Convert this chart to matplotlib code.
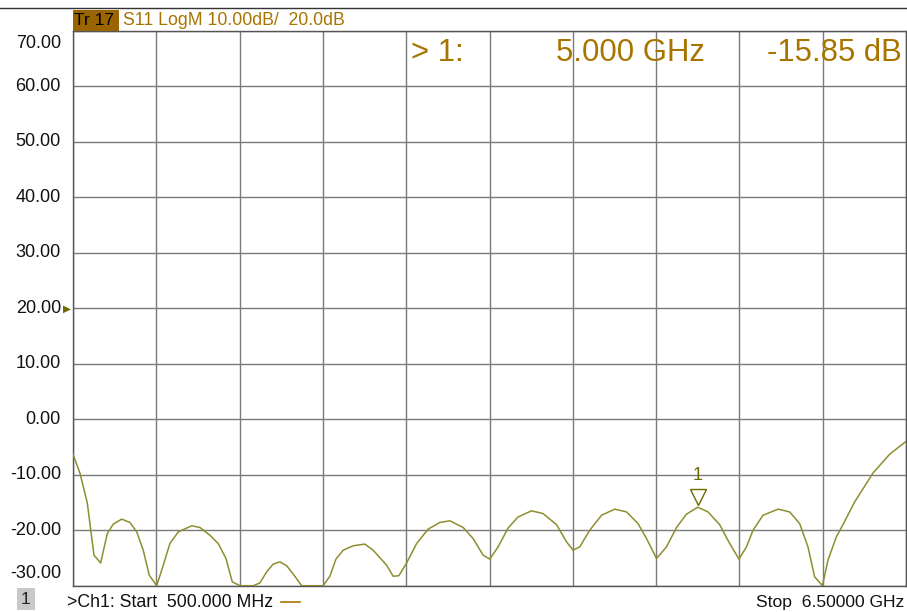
import numpy as np
import matplotlib
matplotlib.use("Agg")
import matplotlib.pyplot as plt
import matplotlib.transforms as mtransforms

plt.rcParams['font.family'] = ['Liberation Sans', 'DejaVu Sans']

# trace S11, frequency in GHz, LogM in dB (-30 = clipped at bottom)
freq_ghz = [0.500, 0.550, 0.603, 0.651, 0.699, 0.747, 0.790, 0.851, 0.910, 0.959,
            1.006, 1.049, 1.103, 1.150, 1.198, 1.258, 1.355, 1.414, 1.486, 1.546,
            1.602, 1.647, 1.702, 1.798, 1.846, 1.895, 1.942, 1.990, 2.039, 2.098,
            2.147, 2.302, 2.350, 2.394, 2.446, 2.518, 2.602, 2.662, 2.759, 2.806,
            2.847, 2.903, 2.975, 3.058, 3.142, 3.214, 3.310, 3.382, 3.454, 3.502,
            3.562, 3.634, 3.706, 3.803, 3.886, 3.983, 4.055, 4.102, 4.150, 4.222,
            4.307, 4.402, 4.487, 4.570, 4.631, 4.703, 4.775, 4.847, 4.919, 5.000,
            5.074, 5.158, 5.230, 5.297, 5.351, 5.398, 5.470, 5.578, 5.662, 5.734,
            5.794, 5.842, 5.898, 5.938, 5.998, 6.046, 6.130, 6.262, 6.382, 6.500]
s11_db = [-6.3, -9.7, -15.1, -24.5, -25.9, -20.6, -18.9, -18.0, -18.6, -20.3,
          -23.6, -28.1, -30.0, -26.3, -22.4, -20.3, -19.2, -19.5, -20.9, -22.4,
          -25.1, -29.3, -30.0, -30.0, -29.5, -27.5, -26.1, -25.7, -26.4, -28.3,
          -30.0, -30.0, -28.3, -25.2, -23.6, -22.8, -22.5, -23.6, -26.3, -28.3,
          -28.2, -25.9, -22.4, -19.8, -18.6, -18.3, -19.5, -21.5, -24.5, -25.2,
          -23.0, -19.6, -17.6, -16.5, -17.0, -19.0, -22.1, -23.6, -23.0, -20.0,
          -17.3, -16.2, -16.7, -18.8, -21.5, -25.1, -23.0, -19.5, -17.1, -15.85,
          -16.7, -19.0, -22.4, -25.2, -23.0, -20.0, -17.3, -16.2, -16.7, -18.8,
          -23.0, -28.4, -30.0, -25.4, -21.2, -19.0, -14.9, -9.7, -6.3, -4.0]

y_ticks = [70, 60, 50, 40, 30, 20, 10, 0, -10, -20, -30]
marker_f = 5.000
marker_db = -15.85
ref_level = 20.0

W, H = 907, 612
trace_col = '#8e8e30'
gold = '#a87400'
olive = '#6e6a00'

fig = plt.figure(figsize=(W / 100, H / 100), dpi=100)
ax = fig.add_axes([73 / W, 1 - 585.7 / H, 833 / W, 554.7 / H])
ax.set_xlim(0.5, 6.5)
ax.set_ylim(-30, 70)
ax.set_xticks(np.linspace(0.5, 6.5, 11))
ax.set_yticks(y_ticks)
ax.grid(True, color='#7a7a7a', lw=1.0)
ax.tick_params(length=0, labelbottom=False, labelleft=False)
for s in ax.spines.values():
    s.set_color('#555555')
    s.set_linewidth(1.0)

ax.plot(freq_ghz, np.clip(s11_db, -30, 70), color=trace_col, lw=1.1, clip_on=True, zorder=3)

# y tick labels drawn by hand (end ones pushed inward like the analyzer does)
for v in y_ticks:
    ypx = 31 + (70 - v) * 5.547
    if v == 70:
        ypx = 43
    if v == -30:
        ypx = 574
    fig.text(61 / W, 1 - ypx / H, f"{v:.2f}", ha='right', va='center', fontsize=13, color='#111111')

# reference level arrow
fig.text(63 / W, 1 - 309 / H, "\u25B6", ha='left', va='center', fontsize=7.5, color=olive)

# marker 1
off = mtransforms.offset_copy(ax.transData, fig=fig, x=0, y=7, units='points')
ax.plot([marker_f], [marker_db], marker='v', ms=12, mfc='white', mec=olive, mew=1.0,
        transform=off, zorder=4)
ax.annotate("1", (marker_f, marker_db), xytext=(0, 17), textcoords='offset points',
            ha='center', va='bottom', fontsize=13, color=olive)

# header
fig.add_artist(plt.Line2D([0, 1], [1 - 8 / H, 1 - 8 / H], color='#333333', lw=1.0))
fig.patches.append(plt.Rectangle((73 / W, 1 - 31 / H), 46 / W, 21 / H, transform=fig.transFigure,
                                 facecolor='#9a6400', edgecolor='none'))
fig.text(74 / W, 1 - 20.5 / H, "Tr 17", ha='left', va='center', fontsize=12.5, color='black')
fig.text(123 / W, 1 - 20.5 / H, "S11 LogM 10.00dB/  20.0dB", ha='left', va='center',
         fontsize=12.7, color=gold)

# marker readout
fig.text(411 / W, 1 - 61 / H, "> 1:", ha='left', va='baseline', fontsize=22.4, color=gold)
fig.text(705 / W, 1 - 61 / H, f"{marker_f:.3f} GHz", ha='right', va='baseline', fontsize=22.4, color=gold)
fig.text(902 / W, 1 - 61 / H, f"{marker_db:.2f} dB", ha='right', va='baseline', fontsize=22.4, color=gold)

# footer
fig.patches.append(plt.Rectangle((17 / W, 1 - 610 / H), 18 / W, 22 / H, transform=fig.transFigure,
                                 facecolor='#c8c8c8', edgecolor='none'))
fig.text(26 / W, 1 - 599 / H, "1", ha='center', va='center', fontsize=12.5, color='#222222')
fig.text(67 / W, 1 - 607 / H, ">Ch1: Start  500.000 MHz", ha='left', va='baseline', fontsize=12.8,
         color='#111111')
fig.add_artist(plt.Line2D([281 / W, 300 / W], [1 - 602 / H, 1 - 602 / H], color=gold, lw=1.2))
fig.text(904 / W, 1 - 607 / H, "Stop  6.50000 GHz", ha='right', va='baseline', fontsize=12.6,
         color='#111111')

fig.savefig("out.png", dpi=100)
